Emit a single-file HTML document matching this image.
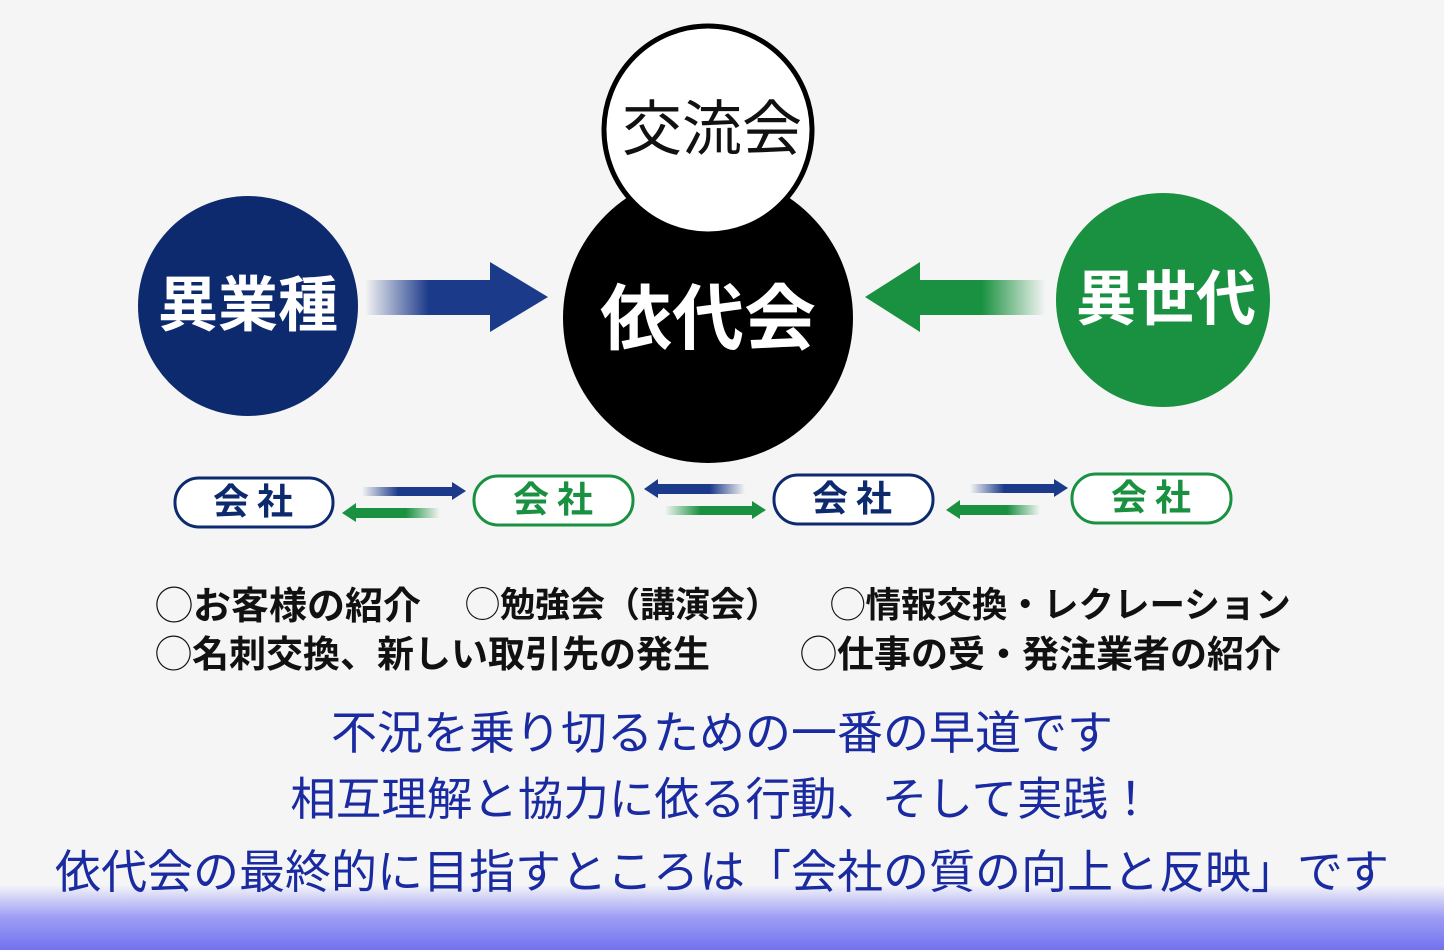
<!DOCTYPE html>
<html><head><meta charset="utf-8"><style>
html,body{margin:0;padding:0}
body{width:1444px;height:950px;position:relative;overflow:hidden;background:#f4f5f4;font-family:"Liberation Sans","Noto Sans CJK JP",sans-serif}
.t{position:absolute;white-space:nowrap;line-height:1}
.b{color:#111;font-size:36px;font-weight:bold}
.o{font-weight:normal}
.m{color:#1a2aa0;font-size:44px;left:0;width:1444px;text-align:center}
</style></head><body>
<div style="position:absolute;left:0;top:885px;width:1444px;height:65px;background:linear-gradient(#f4f5f8,#9d9df5 50%,#7272ee)"></div>
<svg width="1444" height="950" style="position:absolute;left:0;top:0">
<defs>
<linearGradient id="gb" x1="0" x2="1"><stop offset="0" stop-color="#1c3a8a" stop-opacity="0"/><stop offset="0.35" stop-color="#1c3a8a"/><stop offset="1" stop-color="#1c3a8a"/></linearGradient>
<linearGradient id="gg" x1="1" x2="0"><stop offset="0" stop-color="#1a9140" stop-opacity="0"/><stop offset="0.35" stop-color="#1a9140"/><stop offset="1" stop-color="#1a9140"/></linearGradient>
<linearGradient id="gbl" x1="1" x2="0"><stop offset="0" stop-color="#1c3a8a" stop-opacity="0"/><stop offset="0.35" stop-color="#1c3a8a"/><stop offset="1" stop-color="#1c3a8a"/></linearGradient>
<linearGradient id="ggr" x1="0" x2="1"><stop offset="0" stop-color="#1a9140" stop-opacity="0"/><stop offset="0.35" stop-color="#1a9140"/><stop offset="1" stop-color="#1a9140"/></linearGradient>
</defs>
<circle cx="708" cy="318" r="145" fill="#000"/>
<circle cx="708" cy="130" r="104" fill="#fff" stroke="#000" stroke-width="5"/>
<circle cx="248" cy="306" r="110" fill="#0d2a6e"/>
<circle cx="1163" cy="300" r="107" fill="#1a9140"/>
<polygon points="365,280 490,280 490,262 548,297 490,332 490,315 365,315" fill="url(#gb)"/>
<polygon points="1045,280 920,280 920,262 865,297 920,332 920,315 1045,315" fill="url(#gg)"/>
<g fill="#fff" stroke-width="3">
<rect x="175" y="478" width="158" height="49" rx="24" stroke="#0d2a6e"/>
<rect x="474" y="476" width="159" height="49" rx="24" stroke="#1a9140"/>
<rect x="774" y="475" width="159" height="49" rx="24" stroke="#0d2a6e"/>
<rect x="1072" y="474" width="159" height="49" rx="24" stroke="#1a9140"/>
</g>
<polygon points="362,487 452,487 452,482 466,491 452,500 452,496 362,496" fill="url(#gb)"/>
<polygon points="440,508 356,508 356,503 342,513 356,522 356,518 440,518" fill="url(#gg)"/>
<polygon points="745,484 658,484 658,479 644,489 658,498 658,494 745,494" fill="url(#gbl)"/>
<polygon points="665,506 752,506 752,501 766,510 752,519 752,515 665,515" fill="url(#ggr)"/>
<polygon points="970,484 1054,484 1054,479 1068,488 1054,497 1054,493 970,493" fill="url(#gb)"/>
<polygon points="1040,505 960,505 960,500 946,510 960,519 960,515 1040,515" fill="url(#gg)"/>
</svg>
<div class="t" style="left:622px;top:100px;font-size:60px;color:#111">交流会</div>
<div class="t" style="left:600px;top:284px;font-size:72px;color:#fff;font-weight:bold">依代会</div>
<div class="t" style="left:158px;top:276px;font-size:60px;color:#fff;font-weight:bold">異業種</div>
<div class="t" style="left:1076px;top:270px;font-size:60px;color:#fff;font-weight:bold">異世代</div>
<div class="t" style="left:213px;top:484px;font-size:36px;color:#0d2a6e;font-weight:bold;letter-spacing:8px">会社</div>
<div class="t" style="left:513px;top:482px;font-size:36px;color:#1a9140;font-weight:bold;letter-spacing:8px">会社</div>
<div class="t" style="left:812px;top:481px;font-size:36px;color:#0d2a6e;font-weight:bold;letter-spacing:8px">会社</div>
<div class="t" style="left:1111px;top:480px;font-size:36px;color:#1a9140;font-weight:bold;letter-spacing:8px">会社</div>
<div class="t b" style="left:155px;top:588px;font-size:38px"><span class="o">◯</span>お客様の紹介</div>
<div class="t b" style="left:465px;top:588px;font-size:35px"><span class="o">◯</span>勉強会（講演会）</div>
<div class="t b" style="left:830px;top:588px;font-size:35.5px"><span class="o">◯</span>情報交換・レクレーション</div>
<div class="t b" style="left:155px;top:636px;font-size:37px"><span class="o">◯</span>名刺交換、新しい取引先の発生</div>
<div class="t b" style="left:800px;top:636px;font-size:37px"><span class="o">◯</span>仕事の受・発注業者の紹介</div>
<div class="t m" style="top:710px;font-size:46px">不況を乗り切るための一番の早道です</div>
<div class="t m" style="top:777px;font-size:45.5px">相互理解と協力に依る行動、そして実践！</div>
<div class="t m" style="top:849px;font-size:46px">依代会の最終的に目指すところは「会社の質の向上と反映」です</div>
</body></html>
